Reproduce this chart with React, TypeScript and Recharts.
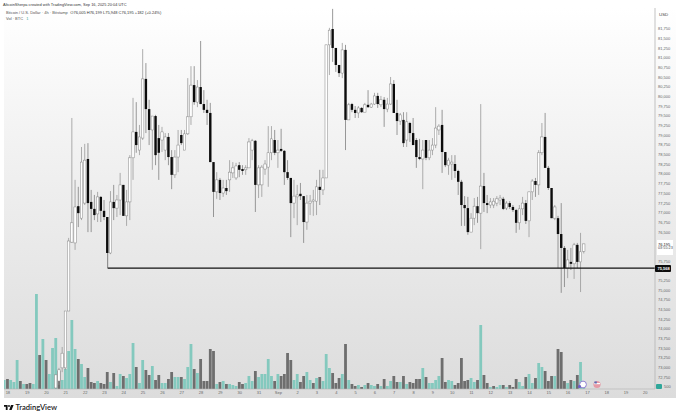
import React from "react";
import { ComposedChart, Bar, XAxis, YAxis, ReferenceLine } from "recharts";

const headerText = "AltcoinSherpa created with TradingView.com, Sep 16, 2025 20:04 UTC";
const symbolText = "Bitcoin / U.S. Dollar · 4h · Bitstamp";
const ohlcText = "O76,005 H76,199 L75,948 C76,195 +182 (+0.24%)";

const firstCandle = 16;
const supportLevel = 75568;
const lastPrice = "76,195";
const countdown = "03:55:23";

const opens = [72470,72650,72990,72990,74460,76240,76220,77170,76860,77250,78390,77280,77100,76970,77410,77050,76890,75960,77280,77120,77330,77720,76920,77280,78420,79090,78620,78930,80460,79680,79140,79500,78930,78880,78620,78960,78440,77980,78440,79010,78620,79040,79480,80300,79860,80250,79810,79660,79580,78310,77540,77850,77510,77640,77850,78030,77900,78230,78130,78110,78160,78620,78860,77720,77720,78130,78180,78550,78880,78550,78650,78600,78050,77900,77250,77410,77490,77430,76760,77250,77300,77300,77670,77590,77900,81340,81750,81260,80820,80610,81210,79400,79810,79660,79580,79710,79600,79790,79730,79810,80020,79790,79920,79680,79810,80330,79580,79370,79400,78880,79320,79060,78880,78440,78390,78880,78420,78620,78750,79140,79270,78570,78230,78260,78260,78080,77800,77200,77120,76500,76860,77170,76990,77690,77250,77200,77200,77250,77330,77360,77120,77250,77150,77070,76740,77100,77250,76790,77540,77820,77720,78550,78960,78160,77640,76860,76860,76450,76090,75570,75730,75680,76170,75730,76005];
const highs = [72810,72990,73530,74460,76350,79450,77850,77670,78700,78780,78800,77590,77460,77540,77430,77330,76890,77560,77720,77460,78030,77720,77590,78490,79970,79860,79270,81230,80870,79920,79500,79530,79270,79220,79060,79060,78620,78620,79140,79140,79140,80480,80790,80790,80430,81440,80170,79920,79840,78310,78050,77900,77850,77850,78360,78310,78290,78310,78230,78230,78930,78910,78880,78230,78230,78360,79240,79240,79140,78880,79170,78620,78360,77900,77850,77720,77770,77430,77460,77460,77590,77850,78110,78110,81340,81780,82270,81260,80820,81390,81340,79840,79840,79760,79760,79730,79840,80170,79840,80100,80100,80020,79990,79970,80510,80430,79920,79580,79600,79600,79350,79450,78930,78910,78880,78880,78880,78930,79730,79290,79660,78570,78420,78490,78490,78110,77850,77430,77410,76990,77380,77410,79810,78030,77460,77380,77380,77430,77460,77410,77300,77300,77200,77100,77200,77410,77330,77540,77870,77900,78620,79320,79580,78210,77640,77200,76920,77250,76140,76040,76090,76220,76220,76480,76199];
const lows = [72450,72550,72880,72940,74460,76220,76040,76630,76810,77200,76500,76500,76810,76760,76760,76810,75960,75930,76810,76890,76940,76920,76660,76810,77850,78550,78490,78880,79060,78750,78110,78230,77850,78570,78360,78230,77610,77900,78050,78750,78620,79010,79270,79790,79730,79810,79580,79270,78310,76890,77360,77330,77410,77460,77540,77900,77850,77920,77980,77980,78160,78360,77020,77380,77410,77980,77670,78360,78490,78160,78570,77720,77850,76370,76860,76680,77330,76220,76560,76940,76920,76940,77200,77460,77900,80560,80900,80640,80510,80480,78620,79400,79600,79450,79450,79580,79600,79710,79710,79790,79710,79730,79220,79600,79790,79580,79010,79270,78700,78700,78830,78750,78160,78360,77610,78360,78360,78490,78670,79010,78030,78180,77980,77850,77900,77460,76660,76660,76430,76500,76680,76740,76060,77020,76990,77120,77120,77170,77200,77070,77070,77100,77020,76480,76560,76940,76710,76370,77330,77410,77460,78490,78160,77590,76860,76810,75570,74930,75080,75310,75520,75290,75570,74950,75948];
const closes = [72810,72940,73370,74460,76270,76740,77150,76990,78310,78360,77250,77100,76940,77410,77050,76890,75960,77280,77120,77330,77720,76920,77280,78420,79090,78750,78960,80460,79680,79140,79500,78490,78550,79090,78960,78440,77980,78440,78750,78800,79040,79480,80300,79860,80250,79810,79660,79580,78310,77540,77850,77510,77640,77560,78050,78160,78210,78110,78080,78160,78830,78860,77720,78160,78180,78260,78550,78910,78550,78620,78600,78050,77900,77250,77430,77460,77430,76760,77250,77300,77330,77670,77590,77900,81340,81720,81260,80820,80610,81210,79400,79790,79660,79580,79710,79600,79790,79730,79810,80020,79810,79920,79680,79810,80330,79580,79370,79530,78800,79350,79060,78750,78440,78390,78620,78420,78620,78750,79190,79240,78570,78230,78360,78310,78080,77800,77200,77120,76500,76860,77170,76990,77690,77250,77200,77280,77300,77360,77380,77100,77250,77150,77070,76740,77100,77250,76790,77540,77820,77720,78550,78960,78160,77640,76860,77150,76450,76090,75570,75780,75680,76170,75730,75990,76195];

const volumes = [1800,2000,1800,1400,5800,1600,1000,1000,1200,1000,19000,6800,10000,5800,3000,8200,10200,3600,1800,4000,7600,13800,8000,6000,5000,2400,4200,1400,1200,1600,1200,1000,3400,1400,3200,600,3000,2600,2200,3000,9200,4400,1200,5800,3800,2800,4600,1800,2800,1200,1200,2000,3400,2400,2400,2400,2000,4400,9000,4000,3200,6000,1600,1600,8000,7600,1000,1400,1600,1000,1000,800,600,1400,1000,1200,2600,1600,3600,2400,3000,3000,6000,2600,1600,3000,2600,3000,7200,5800,1800,3000,1400,2600,3400,1800,1200,2200,2400,1600,7000,4200,3200,1200,2200,3000,9000,1800,1000,600,800,400,800,1200,800,600,1000,600,2000,600,1600,2600,1400,1400,2600,1000,1400,1200,2000,2000,4200,2400,1200,1200,1800,2600,6200,1400,1800,1600,800,1200,6200,1600,1800,2200,1400,1800,12800,2800,1200,400,600,400,800,800,400,800,400,2000,1400,600,2400,3000,1200,2200,5200,4400,3600,1600,2600,2600,8000,7400,1600,1200,1800,1600,2800,5400,600];
const volumeUp = [1,0,1,1,1,0,1,0,0,1,1,0,1,0,1,1,1,0,1,1,1,1,1,0,1,1,0,0,0,1,0,0,0,1,0,1,1,0,1,1,1,0,1,1,0,0,1,0,0,1,1,0,0,1,1,0,1,1,1,0,1,0,0,0,0,0,1,0,1,0,1,1,1,0,0,1,1,1,0,1,1,1,1,1,0,1,0,0,0,0,1,1,0,0,1,1,0,1,0,1,1,1,0,0,0,1,0,1,0,0,1,0,1,0,1,1,0,1,0,1,1,0,0,1,0,1,0,0,0,0,1,0,1,1,1,1,0,0,1,1,0,0,0,0,0,1,1,0,1,0,0,1,0,1,1,0,1,0,0,0,1,1,0,1,1,0,1,1,0,0,0,1,0,0,0,1,0,1,0,1,1];

const dayTicks = [1,7,13,19,25,31,37,43,49,55,61,67,73,79,85,91,97,103,109,115,121,127,133,139,145,151,157,163,169,175,181,187,193,199];
const dayLabels = ["18","19","20","21","22","23","24","25","26","27","28","29","30","31","Sep","2","3","4","5","6","7","8","9","10","11","12","13","14","15","16","17","18","19","20"];
const priceTicks = [72750,73000,73250,73500,73750,74000,74250,74500,74750,75000,75250,75750,76500,76750,77000,77250,77500,77750,78000,78250,78500,78750,79000,79250,79500,79750,80000,80250,80500,80750,81000,81250,81500,81750];

const TEAL = "#84c9be";
const DARK = "#6e6e6e";
const FONT = "'Liberation Sans', Arial, sans-serif";

const rows = volumes.map((volume, i) => {
  const j = i - firstCandle;
  const has = j >= 0 && j < opens.length;
  return {
    idx: i,
    volume,
    up: volumeUp[i] === 1,
    open: has ? opens[j] : undefined,
    close: has ? closes[j] : undefined,
    range: has ? [lows[j], highs[j]] : undefined,
  };
});

function VolumeBar(props: any) {
  const { x, y, width, height, payload } = props;
  if (!payload || !Number.isFinite(y)) return null;
  const w = 2.8;
  return <rect x={x + width / 2 - w / 2} y={y} width={w} height={height} fill={payload.up ? TEAL : DARK} />;
}

function Candle(props: any) {
  const { x, y, width, height, payload } = props;
  if (!payload || payload.open === undefined || !Number.isFinite(y)) return null;
  const [low, high] = payload.range;
  const k = high > low ? height / (high - low) : 0;
  const top = Math.max(payload.open, payload.close);
  const bottom = Math.min(payload.open, payload.close);
  const bodyY = y + (high - top) * k;
  const bodyH = Math.max((top - bottom) * k, 0.7);
  const up = payload.close >= payload.open;
  const cx = x + width / 2;
  return (
    <g>
      <line x1={cx} x2={cx} y1={y} y2={y + height} stroke={up ? "#949494" : "#787878"} strokeWidth={0.75} />
      <rect
        x={x}
        y={bodyY}
        width={width}
        height={bodyH}
        fill={up ? "#ffffff" : "#0c0c0c"}
        stroke={up ? "#858585" : "none"}
        strokeWidth={up ? 0.5 : 0}
      />
    </g>
  );
}

const abs = (left: number, top: number, extra: React.CSSProperties = {}): React.CSSProperties => ({
  position: "absolute",
  left,
  top,
  fontFamily: FONT,
  lineHeight: 1,
  whiteSpace: "nowrap",
  ...extra,
});

export default function App() {
  return (
    <div style={{ position: "absolute", left: 0, top: 0, width: 679, height: 418, background: "#fff", overflow: "hidden" }}>
      <div
        style={{
          position: "absolute",
          left: 4,
          top: 8,
          width: 672,
          height: 390,
          background: "linear-gradient(180deg,#ffffff 0%,#f2f2f2 35%,#e6e6e6 70%,#dcdcdc 100%)",
        }}
      />
      <div style={{ position: "absolute", left: 0, top: 0 }}>
        <ComposedChart
          width={679}
          height={418}
          data={rows}
          margin={{ top: 8, right: 0, bottom: 20, left: 4 }}
          barCategoryGap={0}
        >
          <XAxis
            xAxisId="vol"
            dataKey="idx"
            type="number"
            domain={[-0.2, 202]}
            allowDataOverflow
            hide
          />
          <XAxis
            xAxisId="main"
            dataKey="idx"
            type="number"
            domain={[-0.2, 202]}
            allowDataOverflow
            ticks={dayTicks}
            interval={0}
            height={9}
            tickLine={false}
            tickMargin={0}
            tickSize={2}
            axisLine={{ stroke: "#b4b4b4", strokeWidth: 0.6 }}
            tick={{ fontSize: 4, fill: "#666", fontFamily: FONT }}
            tickFormatter={(v: number) => dayLabels[dayTicks.indexOf(v)]}
          />
          <YAxis
            yAxisId="vol"
            type="number"
            domain={[0, 76200]}
            allowDataOverflow
            hide
          />
          <YAxis
            yAxisId="price"
            orientation="right"
            type="number"
            domain={[72444, 82293]}
            allowDataOverflow
            ticks={priceTicks}
            interval={0}
            width={24}
            tickLine={false}
            tickSize={3}
            tickMargin={0}
            axisLine={{ stroke: "#b4b4b4", strokeWidth: 0.8 }}
            tick={{ fontSize: 4, fill: "#666", fontFamily: FONT }}
            tickFormatter={(v: number) => v.toLocaleString("en-US")}
          />
          <Bar
            xAxisId="vol"
            yAxisId="vol"
            dataKey="volume"
            barSize={2.4}
            isAnimationActive={false}
            shape={<VolumeBar />}
          />
          <Bar
            xAxisId="main"
            yAxisId="price"
            dataKey="range"
            barSize={2.4}
            isAnimationActive={false}
            shape={<Candle />}
          />
          <ReferenceLine
            xAxisId="main"
            yAxisId="price"
            segment={[{ x: 32, y: supportLevel }, { x: 202, y: supportLevel }]}
            stroke="#111"
            strokeWidth={1.2}
          />
          <ReferenceLine
            xAxisId="main"
            yAxisId="price"
            segment={[{ x: 32, y: supportLevel }, { x: 32, y: 75960 }]}
            stroke="#555"
            strokeWidth={0.7}
          />
        </ComposedChart>
      </div>

      <div style={abs(3, 3, { fontSize: 3.95, color: "#333" })}>{headerText}</div>
      <div style={abs(6, 11, { fontSize: 4, color: "#555" })}>
        {symbolText}
        <span style={{ marginLeft: 2.5, color: "#333" }}>{ohlcText}</span>
      </div>
      <div style={abs(6, 17, { fontSize: 4, color: "#555" })}>
        Vol · BTC <span style={{ marginLeft: 2, color: "#3aa99b" }}>1</span>
      </div>
      <div style={abs(659, 12.5, { fontSize: 4.4, color: "#444" })}>USD</div>

      <div style={{ position: "absolute", left: 656.5, top: 240, width: 16, height: 15, background: "#fff" }} />
      <div style={abs(658, 242.5, { fontSize: 4, color: "#111" })}>{lastPrice}</div>
      <div style={abs(658, 247, { fontSize: 3.8, color: "#444" })}>{countdown}</div>
      <div style={{ position: "absolute", left: 655, top: 265, width: 16, height: 7, background: "#0d0d0d", borderRadius: 1 }} />
      <div style={abs(657.5, 266.5, { fontSize: 4, color: "#fff", fontWeight: 700 })}>{supportLevel.toLocaleString("en-US")}</div>

      <div style={{ position: "absolute", left: 656, top: 383.5, width: 6, height: 5.5, background: "#2fa79a", borderRadius: 1 }} />
      <div style={abs(664, 384.5, { fontSize: 4, color: "#666" })}>500</div>

      <svg style={{ position: "absolute", left: 578, top: 380 }} width={24} height={10}>
        <circle cx={5} cy={4.5} r={3.4} fill="#ffffff" stroke="#8d7fd0" strokeWidth={1} />
        <circle cx={1.5} cy={6.5} r={1.6} fill="#6f5fc4" />
        <circle cx={19} cy={4.5} r={3.6} fill="#e59aa6" />
        <rect x={16} y={3} width={6} height={1.2} fill="#ffffff" />
        <rect x={16.4} y={1.5} width={2.4} height={2} fill="#5b6bb5" />
      </svg>

      <svg style={{ position: "absolute", left: 4, top: 405 }} width={10} height={6}>
        <path d="M0 0H3.6V5H1.8V1.8H0Z" fill="#111" />
        <circle cx={5} cy={1} r={0.9} fill="#111" />
        <path d="M7 0H9.6L7.6 5H5.2Z" fill="#111" />
      </svg>
      <div style={abs(15.5, 404, { fontSize: 7.6, fontWeight: 600, color: "#222", fontFamily: "Lato, 'Liberation Sans', sans-serif" })}>
        TradingView
      </div>
    </div>
  );
}
